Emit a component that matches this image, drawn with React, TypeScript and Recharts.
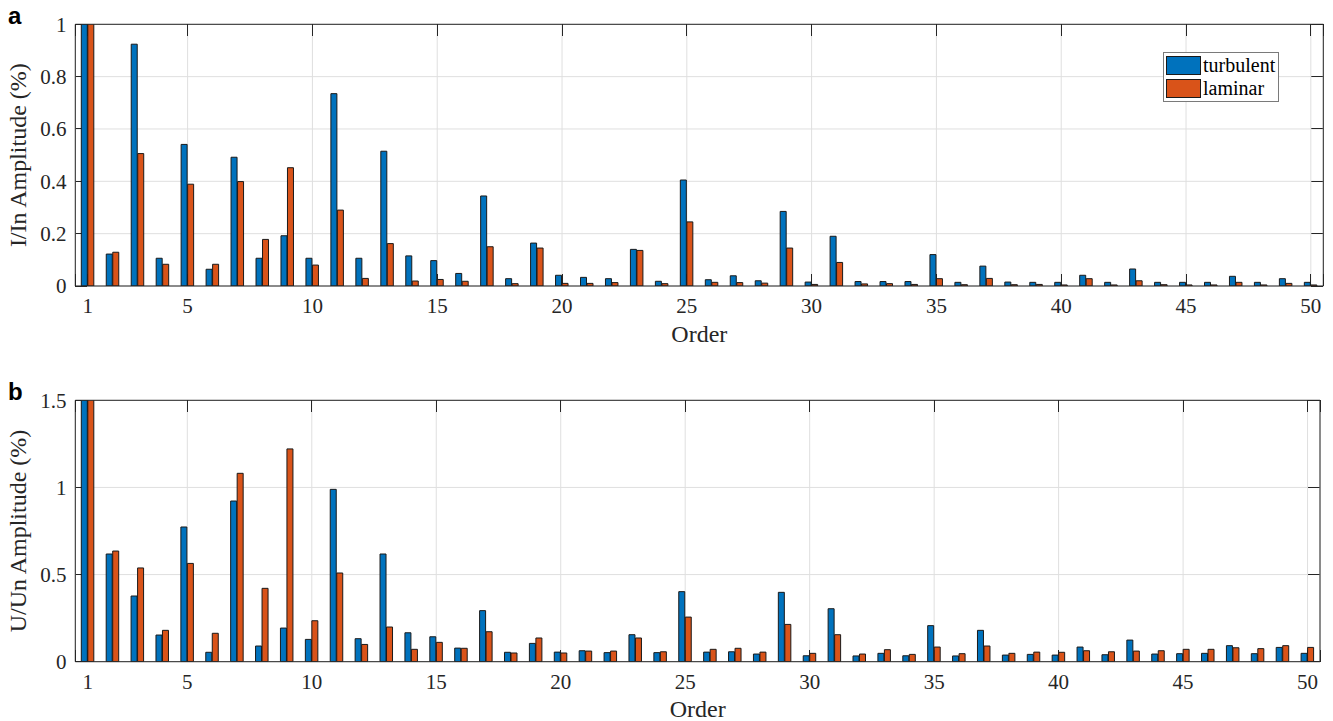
import React from 'react';
import { BarChart, Bar, XAxis, YAxis, CartesianGrid, Legend } from 'recharts';

const ORDERS = [
  1, 2, 3, 4, 5, 6, 7, 8, 9, 10, 11, 12, 13, 14, 15, 16, 17, 18, 19, 20, 21, 22, 23, 24, 25,
  26, 27, 28, 29, 30, 31, 32, 33, 34, 35, 36, 37, 38, 39, 40, 41, 42, 43, 44, 45, 46, 47, 48, 49, 50,
];
const ORDER_TICKS = [1, 5, 10, 15, 20, 25, 30, 35, 40, 45, 50];

// I/In harmonic amplitudes (%), order 1 is the fundamental (clipped by the axis)
const CURRENT_TURBULENT = [
  100, 0.122, 0.924, 0.106, 0.541, 0.064, 0.492, 0.106, 0.192, 0.106,
  0.735, 0.106, 0.515, 0.115, 0.097, 0.048, 0.344, 0.028, 0.164, 0.041,
  0.033, 0.028, 0.14, 0.018, 0.405, 0.024, 0.039, 0.02, 0.285, 0.015,
  0.19, 0.017, 0.017, 0.017, 0.12, 0.014, 0.076, 0.015, 0.014, 0.014,
  0.041, 0.014, 0.065, 0.014, 0.014, 0.014, 0.037, 0.014, 0.028, 0.014,
];
const CURRENT_LAMINAR = [
  100, 0.129, 0.506, 0.083, 0.389, 0.083, 0.399, 0.178, 0.452, 0.08,
  0.29, 0.029, 0.162, 0.019, 0.025, 0.018, 0.15, 0.009, 0.145, 0.01,
  0.01, 0.013, 0.136, 0.009, 0.245, 0.014, 0.013, 0.011, 0.145, 0.006,
  0.09, 0.008, 0.009, 0.006, 0.028, 0.005, 0.029, 0.005, 0.006, 0.004,
  0.028, 0.004, 0.02, 0.005, 0.004, 0.004, 0.014, 0.004, 0.01, 0.004,
];

// U/Un harmonic amplitudes (%)
const VOLTAGE_TURBULENT = [
  100, 0.618, 0.377, 0.153, 0.773, 0.054, 0.922, 0.09, 0.193, 0.128,
  0.989, 0.132, 0.618, 0.166, 0.143, 0.078, 0.293, 0.054, 0.105, 0.055,
  0.063, 0.052, 0.155, 0.052, 0.402, 0.055, 0.057, 0.044, 0.398, 0.034,
  0.304, 0.033, 0.048, 0.034, 0.207, 0.033, 0.18, 0.038, 0.042, 0.038,
  0.084, 0.04, 0.124, 0.044, 0.046, 0.048, 0.092, 0.046, 0.082, 0.048,
];
const VOLTAGE_LAMINAR = [
  100, 0.635, 0.538, 0.18, 0.564, 0.163, 1.081, 0.421, 1.221, 0.235,
  0.509, 0.099, 0.199, 0.071, 0.111, 0.077, 0.172, 0.05, 0.136, 0.05,
  0.061, 0.061, 0.136, 0.057, 0.256, 0.071, 0.077, 0.055, 0.214, 0.048,
  0.155, 0.044, 0.069, 0.042, 0.084, 0.046, 0.09, 0.048, 0.055, 0.054,
  0.063, 0.057, 0.061, 0.063, 0.071, 0.071, 0.08, 0.075, 0.092, 0.082,
];

const CURRENT_TICKS = [0, 0.2, 0.4, 0.6, 0.8, 1];
const VOLTAGE_TICKS = [0, 0.5, 1, 1.5];

const SERIES = [
  { key: 'turbulent', color: '#0072BD' },
  { key: 'laminar', color: '#D95319' },
];

const INK = '#262626';
const GRID = '#dfdfdf';
const SERIF = "'Liberation Serif', 'Times New Roman', serif";
const SANS = "'Liberation Sans', Arial, sans-serif";
const TICK_LEN = 12;

const currentData = ORDERS.map((order, i) => ({
  order,
  turbulent: CURRENT_TURBULENT[i],
  laminar: CURRENT_LAMINAR[i],
}));
const voltageData = ORDERS.map((order, i) => ({
  order,
  turbulent: VOLTAGE_TURBULENT[i],
  laminar: VOLTAGE_LAMINAR[i],
}));

const renderLegend = () => (
  <div
    style={{
      border: '1px solid #7a7a7a',
      background: '#fff',
      padding: '0.5px 3px 1px 2.3px',
      fontFamily: SERIF,
      fontSize: 20,
      color: '#000',
      lineHeight: '23px',
    }}
  >
    {SERIES.map((s) => (
      <div key={s.key} style={{ display: 'flex', alignItems: 'center', height: 23 }}>
        <span
          style={{
            display: 'inline-block',
            width: 33,
            height: 17,
            background: s.color,
            border: '1px solid #1a1a1a',
          }}
        />
        <span style={{ marginLeft: 2 }}>{s.key}</span>
      </div>
    ))}
  </div>
);

// grid lines with MATLAB-style inward tick marks at both ends
const vGridLine = (p: any) => (
  <g key={p.key}>
    <line x1={p.x1} x2={p.x2} y1={p.y1} y2={p.y2} stroke={GRID} />
    <line x1={p.x1} x2={p.x1} y1={p.y1} y2={p.y1 + TICK_LEN} stroke={INK} shapeRendering="crispEdges" />
    <line x1={p.x2} x2={p.x2} y1={p.y2 - TICK_LEN} y2={p.y2} stroke={INK} shapeRendering="crispEdges" />
  </g>
);
const hGridLine = (p: any) => (
  <g key={p.key}>
    <line x1={p.x1} x2={p.x2} y1={p.y1} y2={p.y2} stroke={GRID} />
    <line x1={p.x1} x2={p.x1 + TICK_LEN} y1={p.y1} y2={p.y1} stroke={INK} shapeRendering="crispEdges" />
    <line x1={p.x2 - TICK_LEN} x2={p.x2} y1={p.y2} y2={p.y2} stroke={INK} shapeRendering="crispEdges" />
  </g>
);

type PanelProps = {
  data: { order: number; turbulent: number; laminar: number }[];
  yTicks: number[];
  yLabel: string;
  height: number;
  right: number;
  xAxisHeight: number;
  orderDy: number;
  legend?: boolean;
};

const Panel: React.FC<PanelProps> = ({ data, yTicks, yLabel, height, right, xAxisHeight, orderDy, legend }) => {
  const yDomain = [yTicks[0], yTicks[yTicks.length - 1]];
  return (
    <BarChart
      width={1333}
      height={height}
      data={data}
      margin={{ top: 24.3, right, bottom: 0, left: 0 }}
      barSize={6}
      barGap={0.5}
    >
      <CartesianGrid vertical={vGridLine} horizontal={hGridLine} />
      <XAxis
        dataKey="order"
        type="number"
        domain={[0.5, 50.5]}
        allowDataOverflow
        ticks={ORDER_TICKS}
        interval={0}
        height={xAxisHeight}
        stroke={INK}
        tickLine={false}
        tickSize={0}
        tickMargin={12.4}
        tick={{ fontSize: 21, fontFamily: SERIF, fill: INK }}
        label={{ value: 'Order', position: 'center', dy: orderDy, fontSize: 24, fontFamily: SERIF, fill: INK }}
      />
      {/* top and right edges of the box */}
      <XAxis
        xAxisId="top"
        dataKey="order"
        orientation="top"
        type="number"
        domain={[0.5, 50.5]}
        allowDataOverflow
        height={1}
        mirror
        stroke={INK}
        tickLine={false}
        tick={false}
      />
      <YAxis
        type="number"
        domain={yDomain}
        allowDataOverflow
        ticks={yTicks}
        interval={0}
        width={75.3}
        stroke={INK}
        tickLine={false}
        tickSize={0}
        tickMargin={8.8}
        tick={{ fontSize: 21, fontFamily: SERIF, fill: INK }}
        label={{ value: yLabel, angle: -90, position: 'center', dx: -20.6, fontSize: 24, fontFamily: SERIF, fill: INK }}
      />
      <YAxis
        yAxisId="right"
        orientation="right"
        type="number"
        domain={yDomain}
        allowDataOverflow
        width={1}
        mirror
        stroke={INK}
        tickLine={false}
        tick={false}
      />
      {SERIES.map((s) => (
        <Bar
          key={s.key}
          dataKey={s.key}
          name={s.key}
          fill={s.color}
          stroke="#1a1a1a"
          strokeWidth={1}
          isAnimationActive={false}
        />
      ))}
      {legend && (
        <Legend
          layout="vertical"
          align="center"
          verticalAlign="middle"
          content={renderLegend}
          wrapperStyle={{ top: 52.3, left: 1162.7, width: 'auto', height: 'auto' }}
        />
      )}
    </BarChart>
  );
};

const tagStyle: React.CSSProperties = {
  position: 'absolute',
  left: 8,
  fontFamily: SANS,
  fontWeight: 700,
  fontSize: 24,
  lineHeight: '24px',
  color: '#000',
};

export default function App() {
  return (
    <div style={{ position: 'absolute', left: 0, top: 0, width: 1333, height: 721, background: '#fff' }}>
      <div style={{ position: 'absolute', left: 0, top: 0 }}>
        <Panel
          data={currentData}
          yTicks={CURRENT_TICKS}
          yLabel="I/In Amplitude (%)"
          height={360}
          right={9.7}
          xAxisHeight={74}
          orderDy={10.2}
          legend
        />
      </div>
      <div style={{ position: 'absolute', left: 0, top: 376 }}>
        <Panel
          data={voltageData}
          yTicks={VOLTAGE_TICKS}
          yLabel="U/Un Amplitude (%)"
          height={345}
          right={13}
          xAxisHeight={59.3}
          orderDy={16.9}
        />
      </div>
      <div style={{ ...tagStyle, top: 3.7 }}>a</div>
      <div style={{ ...tagStyle, top: 379.7 }}>b</div>
    </div>
  );
}
